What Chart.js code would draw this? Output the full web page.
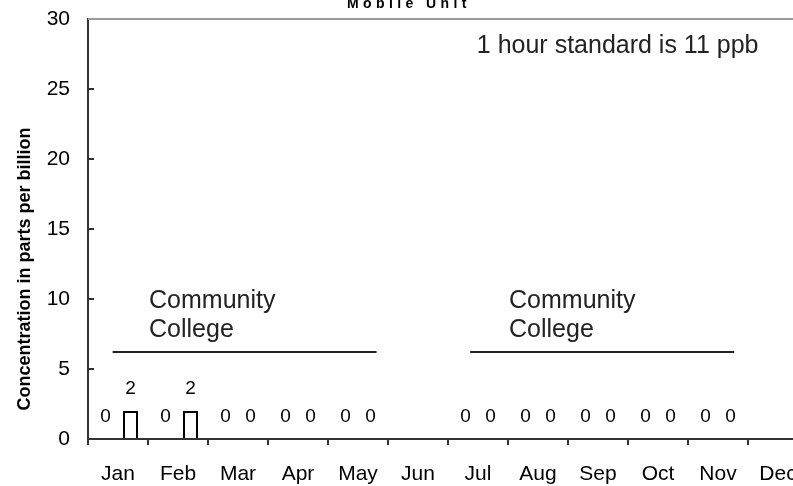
<!DOCTYPE html>
<html><head><meta charset="utf-8">
<script src="https://cdn.jsdelivr.net/npm/chart.js@4/dist/chart.umd.min.js"></script>
<style>
html,body{margin:0;padding:0;background:#fff;overflow:hidden;}
#wrap{width:793px;height:486px;overflow:hidden;position:relative;background:#fff;}
canvas{display:block;}
</style></head><body>
<div id="wrap"><canvas id="c" width="830" height="486"></canvas></div>
<script>
const months = ['Jan','Feb','Mar','Apr','May','Jun','Jul','Aug','Sep','Oct','Nov','Dec'];
const seriesA = [0,0,0,0,0,null,0,0,0,0,0,null];
const seriesB = [2,2,0,0,0,null,0,0,0,0,0,null];
const yMin = 0, yMax = 30, yStep = 5;
const chartTitle = 'Mobile Unit';
const yTitle = 'Concentration in parts per billion';
const siteLines = ['Community','College'];
const standardNote = '1 hour standard is 11 ppb';

const FONT = '"Liberation Sans", Arial, Helvetica, sans-serif';
Chart.defaults.font.family = FONT;

const overlay = {
  id: 'overlay',
  afterDatasetsDraw(chart) {
    const ctx = chart.ctx;
    ctx.save();
    ctx.fillStyle = '#000';
    ctx.font = '19px ' + FONT;
    ctx.textAlign = 'center';
    ctx.textBaseline = 'alphabetic';
    chart.data.datasets.forEach((ds, di) => {
      const meta = chart.getDatasetMeta(di);
      meta.data.forEach((el, i) => {
        const v = ds.data[i];
        if (v === null || v === undefined) return;
        ctx.fillText(String(v), el.x, el.y - 17);
      });
    });
    ctx.restore();
  },
  afterDraw(chart) {
    const ctx = chart.ctx;
    const xs = chart.scales.x, ys = chart.scales.y;
    const area = chart.chartArea;
    ctx.save();
    // top frame line
    ctx.strokeStyle = '#999';
    ctx.lineWidth = 2;
    ctx.beginPath();
    ctx.moveTo(area.left, area.top);
    ctx.lineTo(area.right, area.top);
    ctx.stroke();
    // title (clipped at top)
    ctx.fillStyle = '#000';
    ctx.font = 'bold 14px ' + FONT;
    ctx.textAlign = 'left';
    ctx.textBaseline = 'alphabetic';
    try { ctx.letterSpacing = '4.4px'; } catch(e) {}
    ctx.fillText(chartTitle, 347, 8);
    try { ctx.letterSpacing = '0px'; } catch(e) {}
    // y axis title
    ctx.save();
    ctx.translate(25.5, 269);
    ctx.rotate(-Math.PI / 2);
    ctx.font = 'bold 18px ' + FONT;
    ctx.textAlign = 'center';
    ctx.textBaseline = 'middle';
    ctx.fillText(yTitle, 0, 0);
    ctx.restore();
    // site annotations
    ctx.strokeStyle = '#222';
    ctx.lineWidth = 2;
    [[-0.09, 4.31, 0.517], [5.87, 10.27, 6.517]].forEach(([a, b, t]) => {
      const y = Math.round(ys.getPixelForValue(6.2));
      ctx.beginPath();
      ctx.moveTo(xs.getPixelForValue(a), y);
      ctx.lineTo(xs.getPixelForValue(b), y);
      ctx.stroke();
      ctx.font = '25px ' + FONT;
      ctx.fillStyle = '#222';
      ctx.textAlign = 'left';
      ctx.fillText(siteLines[0], xs.getPixelForValue(t), ys.getPixelForValue(9.36));
      ctx.fillText(siteLines[1], xs.getPixelForValue(t), ys.getPixelForValue(7.3));
    });
    ctx.font = '25px ' + FONT;
    ctx.fillStyle = '#222';
    ctx.fillText(standardNote, xs.getPixelForValue(5.98), ys.getPixelForValue(27.57));
    ctx.restore();
  }
};

new Chart(document.getElementById('c'), {
  type: 'bar',
  data: {
    labels: months,
    datasets: [
      { label: 'Series A', data: seriesA, backgroundColor: '#fff', borderColor: '#000', borderWidth: 2 },
      { label: 'Series B', data: seriesB, backgroundColor: '#fff', borderColor: '#000', borderWidth: 2 }
    ]
  },
  options: {
    responsive: false,
    animation: false,
    devicePixelRatio: 1,
    categoryPercentage: 50 / 60,
    barPercentage: 0.6,
    layout: { padding: { top: 19, right: 22, bottom: 0, left: 0 } },
    plugins: { legend: { display: false }, tooltip: { enabled: false }, title: { display: false } },
    scales: {
      x: {
        type: 'category',
        position: 'bottom',
        grid: { offset: true, drawOnChartArea: false, drawTicks: true, tickLength: 6, color: '#333', lineWidth: 2 },
        border: { display: true, color: '#333', width: 2 },
        ticks: { font: { size: 21 }, color: '#000', padding: 17, maxRotation: 0, autoSkip: false },
        afterFit: (s) => { s.height = 47; s.paddingLeft = 0; s.paddingRight = 0; }
      },
      y: {
        min: yMin, max: yMax,
        ticks: { stepSize: yStep, font: { size: 21 }, color: '#000', padding: 24 },
        grid: { drawOnChartArea: false, drawTicks: true, tickLength: -6, color: '#333', lineWidth: 2 },
        border: { display: true, color: '#333', width: 2 },
        afterFit: (s) => { s.width = 88; s.paddingTop = 0; s.paddingBottom = 0; }
      }
    }
  },
  plugins: [overlay]
});
</script>
</body></html>
